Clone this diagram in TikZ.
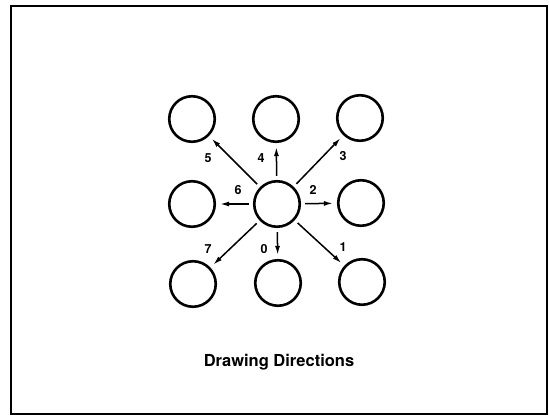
\documentclass[tikz,border=0pt]{standalone}
\usepackage{fontspec}
\setmainfont{TeX Gyre Heros}
\usetikzlibrary{arrows.meta}
\tikzset{
  spot/.style={circle,draw,line width=2.6pt,minimum size=45.5pt,inner sep=0pt},
  dirarrow/.style={-{Latex[length=9pt,width=5pt]},line width=1.5pt,
    shorten <=4pt,shorten >=4pt},
  dirlabel/.style={font=\fontsize{12.5}{13}\selectfont\bfseries,inner sep=0pt},
}
\begin{document}
\begin{tikzpicture}[x=1pt,y=-1pt]
\useasboundingbox (0,0) rectangle (549,417);
\draw[line width=1.8pt] (11,6) rectangle (547,414);
% centre spot and its eight neighbours, named by direction
\node[spot] (c) at (277,204) {};
\foreach \d/\x/\y in {0/278/283,1/362/282,2/361/203,3/360/118,
                      4/276/119,5/192/119,6/192/204,7/193/284}
  \node[spot] (n\d) at (\x,\y) {};
\foreach \d in {0,...,7}
  \draw[dirarrow] (c) -- (n\d);
\foreach \d/\x/\y in {0/264/249,1/343/247,2/313/190,3/343/156,
                      4/261/158,5/208/158,6/238/190,7/208/249}
  \node[dirlabel] (l\d) at (\x,\y) {\d};
\node[font=\fontsize{16.5}{18}\selectfont\bfseries] (title) at (279,362)
  {Drawing Directions};
\end{tikzpicture}
\end{document}
